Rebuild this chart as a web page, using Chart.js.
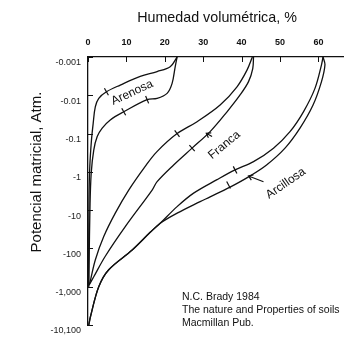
<!DOCTYPE html>
<html><head><meta charset="utf-8">
<script src="https://cdn.jsdelivr.net/npm/chart.js@4/dist/chart.umd.min.js"></script>
<style>html,body{margin:0;padding:0;background:#fff}</style>
</head><body>
<canvas id="c" width="357" height="353" style="width:357px;height:353px;display:block"></canvas>
<script>
// ---- data (suction magnitudes in atm; axis labels show them as negative potentials)
const xTicks = [0, 10, 20, 30, 40, 50, 60];
const yTicks = [0.001, 0.01, 0.1, 1, 10, 100, 1000, 10000];
const yTickLabels = ["-0.001", "-0.01", "-0.1", "-1", "-10", "-100", "-1,000", "-10,100"];

const arenosaSecadoX = [23.2, 21.4, 18.0, 13.6, 8.4, 4.8, 2.8, 1.9, 1.35, 0.9, 0.47, 0.26, 0.15];
const arenosaSecadoY = [0.001, 0.0018, 0.0024, 0.0032, 0.0054, 0.0081, 0.012, 0.02, 0.054, 0.15, 0.72, 5.4, 1000];
const arenosaHumedX = [23.2, 22.7, 21.9, 20.6, 18.0, 15.4, 9.3, 5.8, 3.7, 2.4, 1.5, 0.83, 0.5, 0.3, 0.2];
const arenosaHumedY = [0.001, 0.0018, 0.0049, 0.0089, 0.012, 0.013, 0.027, 0.044, 0.072, 0.12, 0.27, 1.1, 10, 200, 1000];

const francaSecadoX = [42.8, 41.4, 38.8, 34.4, 28.4, 23.2, 17.9, 14.9, 10.6, 7.1, 4.1, 1.9, 0.6, 0.3];
const francaSecadoY = [0.001, 0.0022, 0.006, 0.018, 0.049, 0.1, 0.3, 0.72, 3, 12, 49, 200, 700, 900];
const francaHumedX = [43.1, 42.9, 41.8, 39.6, 36.2, 31.8, 27.1, 22.3, 18.0, 16.7, 9.7, 4.5, 1.5, 0.3];
const francaHumedY = [0.001, 0.002, 0.0044, 0.0098, 0.027, 0.089, 0.24, 0.66, 1.8, 3, 27, 160, 550, 900];

const arcillosaSecadoX = [61.2, 60.8, 59.1, 56.1, 52.6, 48.3, 43.1, 38.3, 33.6, 27.5, 23.2, 18.8, 16.2, 11.5, 5.4, 2.8, 0.65, 0.2];
const arcillosaSecadoY = [0.001, 0.0016, 0.0066, 0.027, 0.089, 0.24, 0.54, 0.89, 1.6, 3.6, 8.1, 22, 38, 110, 360, 1000, 6000, 10000];
const arcillosaHumedX = [61.2, 61.7, 60.8, 58.6, 55.2, 51.3, 46.5, 41.8, 37.0, 31.8, 29.2, 23.2, 18.8, 16.2, 11.5, 5.4, 2.8, 0.65, 0.2];
const arcillosaHumedY = [0.001, 0.0016, 0.0044, 0.018, 0.072, 0.24, 0.66, 1.35, 2.5, 4.5, 6.0, 12, 22, 38, 110, 360, 1000, 6000, 10000];

// small cross-marks on the curves
const markX = [4.8, 9.3, 15.4, 23.2, 27.1, 38.3, 36.6];
const markY = [0.0081, 0.027, 0.013, 0.1, 0.24, 0.89, 2.2];
const markAngle = [60, 61, 68, 53, 48, 63, 62];

// curve names
const curveNames = ["Arenosa", "Franca", "Arcillosa"];
const curveNameX = [11.5, 35.5, 51.5];
const curveNameY = [0.0085, 0.2, 2.0];
const curveNameAngle = [-24.7, -39.6, -34.9];

// pointer arrows [tailX, tailY, tipX, tipY]
const arrowFrancaFrom = [32.3, 0.12], arrowFrancaTo = [30.8, 0.098];
const arrowArcillosaFrom = [45.7, 1.82], arrowArcillosaTo = [41.8, 1.28];

const xTitle = "Humedad volumétrica, %";
const yTitle = "Potencial matricial, Atm.";
const sourceLines = ["N.C. Brady 1984", "The nature and Properties of soils", "Macmillan Pub."];

// ---- build
const toPts = (xs, ys) => xs.map((v, i) => ({x: v, y: ys[i]}));
const lineDs = (xs, ys) => ({
  type: 'line', data: toPts(xs, ys), borderColor: '#111', borderWidth: 1.3,
  pointRadius: 0, tension: 0.35, fill: false
});

const decor = {
  id: 'decor',
  afterDraw(chart) {
    const {ctx, chartArea: a, scales: {x, y}} = chart;
    ctx.save();
    ctx.strokeStyle = '#111'; ctx.lineWidth = 1;
    ctx.beginPath();
    xTicks.forEach(v => { const px = Math.round(x.getPixelForValue(v)) + 0.5; ctx.moveTo(px, a.top); ctx.lineTo(px, a.top + 5); });
    yTicks.forEach(v => { const py = Math.round(y.getPixelForValue(v)) + 0.5; ctx.moveTo(a.left, py); ctx.lineTo(a.left + 5, py); });
    ctx.stroke();

    const arrow = (from, to) => {
      const x0 = x.getPixelForValue(from[0]), y0 = y.getPixelForValue(from[1]);
      const x1 = x.getPixelForValue(to[0]), y1 = y.getPixelForValue(to[1]);
      const ang = Math.atan2(y1 - y0, x1 - x0);
      ctx.beginPath();
      ctx.moveTo(x0, y0); ctx.lineTo(x1, y1);
      ctx.moveTo(x1 - 5 * Math.cos(ang - 0.6), y1 - 5 * Math.sin(ang - 0.6)); ctx.lineTo(x1, y1);
      ctx.lineTo(x1 - 5 * Math.cos(ang + 0.6), y1 - 5 * Math.sin(ang + 0.6));
      ctx.lineWidth = 1.2; ctx.stroke();
    };
    arrow(arrowFrancaFrom, arrowFrancaTo);
    arrow(arrowArcillosaFrom, arrowArcillosaTo);

    ctx.fillStyle = '#111';
    ctx.textAlign = 'center'; ctx.textBaseline = 'middle';
    ctx.font = '12px "Liberation Sans", Arial, sans-serif';
    curveNames.forEach((t, i) => {
      ctx.save();
      ctx.translate(x.getPixelForValue(curveNameX[i]), y.getPixelForValue(curveNameY[i]));
      ctx.rotate(curveNameAngle[i] * Math.PI / 180);
      ctx.fillText(t, 0, 0);
      ctx.restore();
    });

    ctx.font = '14.3px "Liberation Sans", Arial, sans-serif';
    ctx.fillText(xTitle, 217, 18);
    ctx.save();
    ctx.translate(37, 172); ctx.rotate(-Math.PI / 2);
    ctx.font = '15px "Liberation Sans", Arial, sans-serif';
    ctx.fillText(yTitle, 0, 0);
    ctx.restore();

    ctx.textAlign = 'left';
    ctx.font = '10.5px "Liberation Sans", Arial, sans-serif';
    sourceLines.forEach((t, i) => ctx.fillText(t, 182, 297 + i * 13));
    ctx.restore();
  }
};

new Chart(document.getElementById('c'), {
  data: {
    datasets: [
      lineDs(arenosaSecadoX, arenosaSecadoY),
      lineDs(arenosaHumedX, arenosaHumedY),
      lineDs(francaSecadoX, francaSecadoY),
      lineDs(francaHumedX, francaHumedY),
      lineDs(arcillosaSecadoX, arcillosaSecadoY),
      lineDs(arcillosaHumedX, arcillosaHumedY),
      {
        type: 'scatter', data: toPts(markX, markY), pointStyle: 'line',
        pointRadius: 4, pointRotation: markAngle, borderColor: '#111', borderWidth: 1.2,
        pointBorderWidth: 1.2, pointBorderColor: '#111'
      }
    ]
  },
  options: {
    responsive: false, animation: false, devicePixelRatio: 1,
    layout: {padding: {left: 0, top: 0, right: 14, bottom: 28}},
    plugins: {legend: {display: false}, tooltip: {enabled: false}},
    scales: {
      x: {
        type: 'linear', position: 'top', min: 0, max: 66.4,
        afterBuildTicks: s => { s.ticks = xTicks.map(v => ({value: v})); },
        afterFit: s => { s.height = 57; },
        grid: {display: false, drawTicks: false},
        border: {display: true, color: '#111', width: 1.3},
        ticks: {padding: 9, color: '#111', font: {family: '"Liberation Sans", Arial, sans-serif', size: 9, weight: 'bold'}, maxRotation: 0}
      },
      y: {
        type: 'logarithmic', reverse: true, min: 0.001, max: 10000,
        afterBuildTicks: s => { s.ticks = yTicks.map(v => ({value: v})); },
        afterFit: s => { s.width = 88; },
        grid: {display: false, drawTicks: false},
        border: {display: true, color: '#111', width: 1.3},
        ticks: {padding: 7, labelOffset: 6, color: '#222',
          font: {family: '"Liberation Sans", Arial, sans-serif', size: 9},
          callback: (v, i) => yTickLabels[i]}
      }
    }
  },
  plugins: [decor]
});
</script>
</body></html>
